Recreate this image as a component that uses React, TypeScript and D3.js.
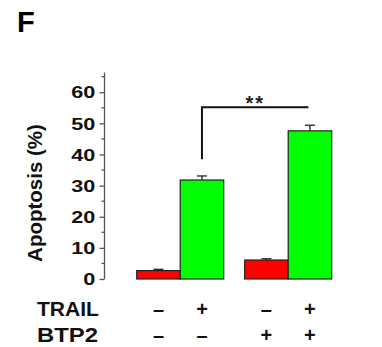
import * as d3 from "d3";
import { useEffect, useRef } from "react";

// bar groups as in the figure: (TRAIL, BTP2) conditions
const groups = ["noBTP2", "BTP2"];
const treatments = ["ctrl", "TRAIL"];
const apoptosis = [2.7, 31.8, 6.1, 47.6];
const errors = [0.4, 1.3, 0.4, 1.8];
const barColors = ["#ff0000", "#00ff00"];
const trailSigns = ["–", "+", "–", "+"];
const btp2Signs = ["–", "–", "+", "+"];
const majorTicks = [0, 10, 20, 30, 40, 50, 60];
const minorTicks = [5, 15, 25, 35, 45, 55, 65];
// significance bracket: from bar 1 to bar 3
const sigFrom = 1;
const sigTo = 3;
const sigLevel = 55.2;
const sigDrop = 38.5;
const sigLabel = "**";

const W = 382;
const H = 347;
const FONT = "'Liberation Sans', Arial, sans-serif";

const App = () => {
  const svgRef = useRef<SVGSVGElement>(null);

  useEffect(() => {
    const svg = d3.select(svgRef.current);
    svg.selectAll("*").remove();

    const y = d3.scaleLinear().domain([0, 66.5]).range([279, 72]);
    const gx = d3.scaleBand().domain(groups).range([136.7, 331.7]).paddingInner(0.194);
    const bx = d3.scaleBand().domain(treatments).range([0, gx.bandwidth()]);

    const bars = apoptosis.map((v, i) => {
      const g = groups[Math.floor(i / 2)];
      const t = treatments[i % 2];
      const x0 = (gx(g) as number) + (bx(t) as number);
      return { v, e: errors[i], x0, cx: x0 + bx.bandwidth() / 2, color: barColors[i % 2] };
    });

    // panel letter
    svg
      .append("text")
      .attr("x", 17)
      .attr("y", 32)
      .attr("font-family", FONT)
      .attr("font-weight", "bold")
      .attr("font-size", 29)
      .text("F");

    // y axis
    const axis = svg.append("g").attr("transform", "translate(104,0)");
    axis
      .call(d3.axisLeft(y).tickValues(majorTicks).tickSize(4.5).tickSizeOuter(0).tickPadding(0))
      .call((g) => g.selectAll("path, line").attr("stroke", "#555").attr("stroke-width", 1.3))
      .call((g) =>
        g
          .selectAll("text")
          .attr("x", -6.4)
          .attr("dy", "0.36em")
          .attr("transform", "scale(1.35,1)")
          .attr("font-family", FONT)
          .attr("font-weight", "bold")
          .attr("font-size", 16)
          .attr("fill", "#111")
      );
    axis
      .selectAll(".minor")
      .data(minorTicks)
      .enter()
      .append("line")
      .attr("x1", -2.5)
      .attr("x2", 0)
      .attr("y1", (d) => y(d))
      .attr("y2", (d) => y(d))
      .attr("stroke", "#555")
      .attr("stroke-width", 1.3);

    svg
      .append("text")
      .attr("transform", "translate(41.7,193) rotate(-90)")
      .attr("text-anchor", "middle")
      .attr("font-family", FONT)
      .attr("font-weight", "bold")
      .attr("font-size", 20.5)
      .attr("fill", "#111")
      .text("Apoptosis (%)");

    // bars
    svg
      .selectAll(".bar")
      .data(bars)
      .enter()
      .append("rect")
      .attr("x", (d) => d.x0)
      .attr("width", bx.bandwidth())
      .attr("y", (d) => y(d.v))
      .attr("height", (d) => y(0) - y(d.v))
      .attr("fill", (d) => d.color)
      .attr("stroke", "#222")
      .attr("stroke-width", 1.2);

    // error bars
    const err = svg.append("g").attr("stroke", "#222").attr("stroke-width", 1.3);
    bars.forEach((d) => {
      err.append("line").attr("x1", d.cx).attr("x2", d.cx).attr("y1", y(d.v)).attr("y2", y(d.v + d.e));
      err
        .append("line")
        .attr("x1", d.cx - 5)
        .attr("x2", d.cx + 5)
        .attr("y1", y(d.v + d.e))
        .attr("y2", y(d.v + d.e));
    });

    // significance bracket
    const a = bars[sigFrom].cx;
    const b = bars[sigTo].cx - 1.5;
    svg
      .append("path")
      .attr("d", `M${a},${y(sigDrop)}V${y(sigLevel)}H${b}`)
      .attr("fill", "none")
      .attr("stroke", "#111")
      .attr("stroke-width", 2);
    svg
      .append("text")
      .attr("x", (a + b) / 2)
      .attr("y", y(sigLevel) + 3)
      .attr("text-anchor", "middle")
      .attr("font-family", FONT)
      .attr("font-weight", "bold")
      .attr("font-size", 20)
      .attr("letter-spacing", 2)
      .attr("fill", "#222")
      .text(sigLabel);

    // condition table
    const rows = [
      { label: "TRAIL", signs: trailSigns, base: 316, len: 62 },
      { label: "BTP2", signs: btp2Signs, base: 341.5, len: 61 },
    ];
    rows.forEach((r) => {
      svg
        .append("text")
        .attr("x", 37)
        .attr("y", r.base)
        .attr("textLength", r.len)
        .attr("lengthAdjust", "spacingAndGlyphs")
        .attr("font-family", FONT)
        .attr("font-weight", "bold")
        .attr("font-size", 20)
        .attr("fill", "#111")
        .text(r.label);
      svg
        .selectAll(null)
        .data(r.signs)
        .enter()
        .append("text")
        .attr("x", (_, i) => bars[i].cx)
        .attr("y", r.base)
        .attr("text-anchor", "middle")
        .attr("font-family", FONT)
        .attr("font-weight", "bold")
        .attr("font-size", 20)
        .attr("fill", "#111")
        .text((d) => d);
    });
  }, []);

  return (
    <svg
      ref={svgRef}
      width={W}
      height={H}
      style={{ position: "absolute", left: 0, top: 0, background: "#fff" }}
    />
  );
};

export default App;
